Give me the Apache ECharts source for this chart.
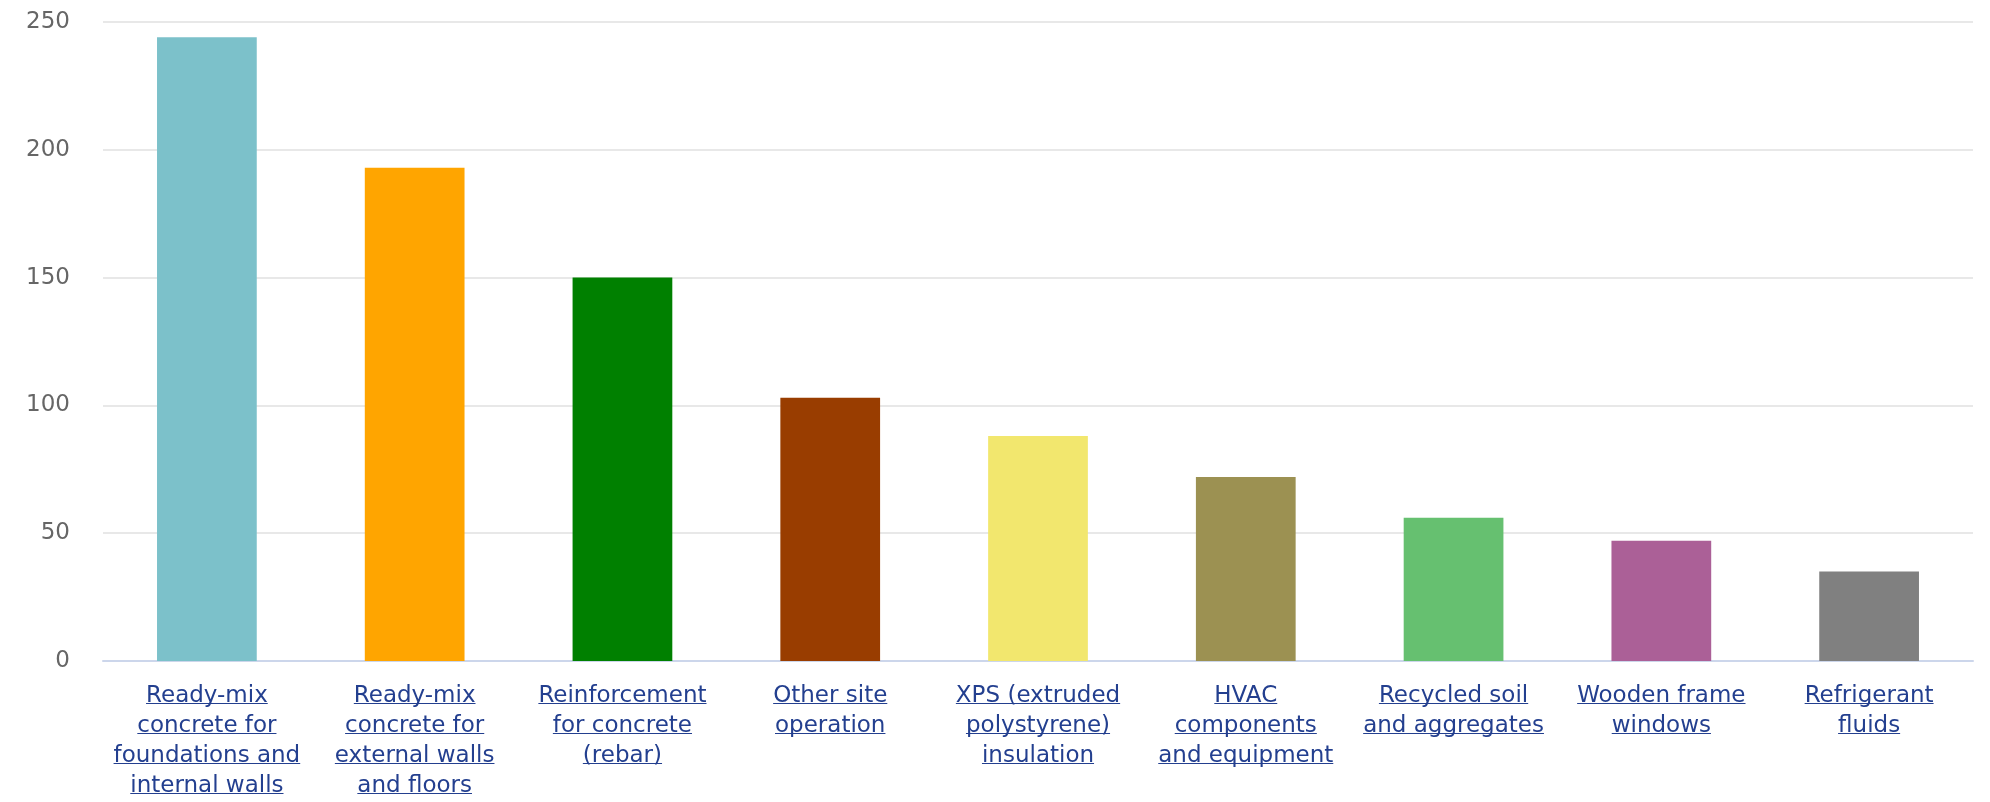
<!DOCTYPE html>
<html>
<head>
<meta charset="utf-8">
<title>Embodied carbon by material</title>
<script src="https://cdn.jsdelivr.net/npm/echarts@6/dist/echarts.min.js"></script>
<style>
    html, body { margin: 0; padding: 0; background: #fff; }
    #chart { width: 1990px; height: 802px; }
</style>
</head>
<body>
<div id="chart"></div>
<script>
    // categories (line breaks as in the picture)
    var categories = [
        'Ready-mix\nconcrete for\nfoundations and\ninternal walls',
        'Ready-mix\nconcrete for\nexternal walls\nand floors',
        'Reinforcement\nfor concrete\n(rebar)',
        'Other site\noperation',
        'XPS (extruded\npolystyrene)\ninsulation',
        'HVAC\ncomponents\nand equipment',
        'Recycled soil\nand aggregates',
        'Wooden frame\nwindows',
        'Refrigerant\nfluids'
    ];
    var values = [244, 193, 150, 103, 88, 72, 56, 47, 35];
    var barColors = ['#7cc1ca', '#ffa500', '#008000', '#993d00', '#f2e76e',
                     '#9c9152', '#66c070', '#ab6097', '#808080'];
    var yTicks = { min: 0, max: 250, interval: 50 };

    var linkBlue = '#233f8f';
    // fake underline: gradient band at the bottom of each line box
    var underline = new echarts.graphic.LinearGradient(0, 0, 0, 1, [
        { offset: 0, color: 'rgba(255,255,255,0)' },
        { offset: 0.79, color: 'rgba(255,255,255,0)' },
        { offset: 0.79, color: linkBlue },
        { offset: 0.85, color: linkBlue },
        { offset: 0.85, color: 'rgba(255,255,255,0)' },
        { offset: 1, color: 'rgba(255,255,255,0)' }
    ]);

    var chart = echarts.init(document.getElementById('chart'));
    chart.setOption({
        animation: false,
        textStyle: { fontFamily: 'DejaVu Sans' },
        grid: { left: 103, right: 17, top: 22, bottom: 141, containLabel: false },
        xAxis: {
            type: 'category',
            data: categories,
            axisLine: { show: true, lineStyle: { color: '#ccd6eb', width: 2 } },
            axisTick: { show: false },
            axisLabel: {
                interval: 0,
                margin: 20,
                formatter: function (v) {
                    return v.split('\n').map(function (s) { return '{u|' + s + '}'; }).join('\n');
                },
                rich: {
                    u: {
                        fontFamily: 'DejaVu Sans',
                        fontSize: 23,
                        lineHeight: 30,
                        color: linkBlue,
                        backgroundColor: underline
                    }
                }
            }
        },
        yAxis: {
            type: 'value',
            min: yTicks.min,
            max: yTicks.max,
            interval: yTicks.interval,
            axisLine: { show: false },
            axisTick: { show: false },
            axisLabel: { margin: 33, fontSize: 23, color: '#666666', fontFamily: 'DejaVu Sans' },
            splitLine: { lineStyle: { color: '#e8e8e8', width: 2 } }
        },
        series: [{
            type: 'bar',
            barWidth: '48%',
            data: values.map(function (v, i) {
                return { value: v, itemStyle: { color: barColors[i] } };
            })
        }]
    });
</script>
</body>
</html>
